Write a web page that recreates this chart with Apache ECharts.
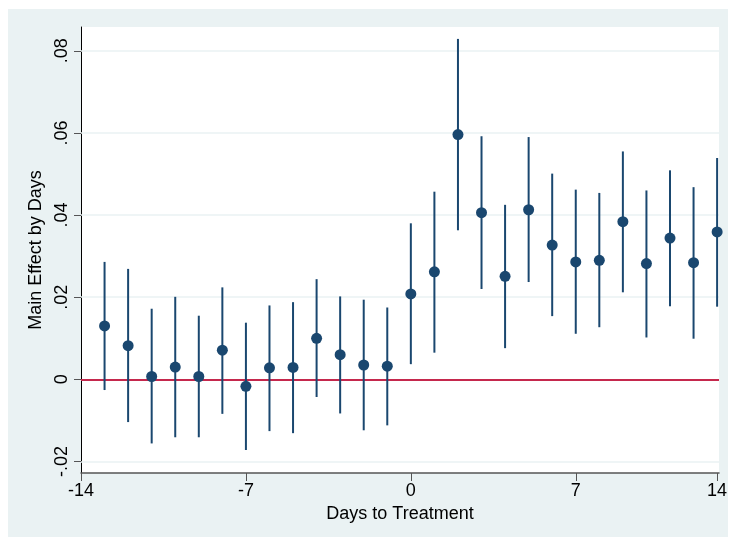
<!DOCTYPE html>
<html>
<head>
<meta charset="utf-8">
<script src="https://cdn.jsdelivr.net/npm/echarts@6/dist/echarts.min.js"></script>
<style>
html,body{margin:0;padding:0;background:#ffffff;}
#bg{position:absolute;left:8px;top:9px;width:720px;height:528px;background:#EAF2F3;}
#chart{position:absolute;left:0;top:0;width:735px;height:544px;}
</style>
</head>
<body>
<div id="bg"></div>
<div id="chart"></div>
<script>
// Data
const days = [-13,-12,-11,-10,-9,-8,-7,-6,-5,-4,-3,-2,-1,0,1,2,3,4,5,6,7,8,9,10,11,12,13];
const estimate = [0.0130,0.0082,0.0007,0.0030,0.0007,0.0071,-0.0017,0.0028,0.0029,0.0100,0.0060,0.0035,0.0032,0.0208,0.0262,0.0596,0.0406,0.0251,0.0413,0.0327,0.0286,0.0290,0.0384,0.0282,0.0344,0.0284,0.0359];
const ciLow = [-0.0026,-0.0104,-0.0156,-0.0141,-0.0141,-0.0084,-0.0172,-0.0126,-0.0131,-0.0043,-0.0083,-0.0124,-0.0112,0.0037,0.0065,0.0363,0.0220,0.0076,0.0237,0.0154,0.0111,0.0127,0.0212,0.0102,0.0178,0.0099,0.0177];
const ciHigh = [0.0286,0.0269,0.0172,0.0201,0.0155,0.0224,0.0138,0.0180,0.0188,0.0244,0.0202,0.0194,0.0175,0.0380,0.0457,0.0829,0.0592,0.0425,0.0590,0.0501,0.0462,0.0454,0.0555,0.0460,0.0509,0.0468,0.0539];
const xTickValues = [-14,-7,0,7,13];
const xTickLabels = ["-14","-7","0","7","14"];
const yTickValues = [-0.02,0,0.02,0.04,0.06,0.08];
const yTickLabels = ["-.02","0",".02",".04",".06",".08"];
const xTitle = "Days to Treatment";
const yTitle = "Main Effect by Days";

const FONT = "'Liberation Sans', Arial, sans-serif";
const NAVY = '#1a476f';

const pointData = days.map((d, i) => [d, estimate[i]]);
const barData = days.map((d, i) => [d, ciLow[i], ciHigh[i]]);

function lookup(values, labels, v) {
  for (let i = 0; i < values.length; i++) {
    if (Math.abs(values[i] - v) < 1e-9) return labels[i];
  }
  return '';
}

const chart = echarts.init(document.getElementById('chart'), null, {renderer: 'canvas'});
chart.setOption({
  backgroundColor: 'transparent',
  animation: false,
  grid: {left: 81, right: 16, top: 27, bottom: 71, show: true, backgroundColor: '#ffffff', borderWidth: 0},
  xAxis: {
    type: 'value', min: -14, max: 13.08,
    name: xTitle, nameLocation: 'middle', nameGap: 30,
    nameTextStyle: {fontSize: 18, color: '#000', fontFamily: FONT},
    axisLine: {show: true, onZero: false, lineStyle: {color: '#555555', width: 1.5}},
    axisTick: {show: true, length: 8, customValues: xTickValues, lineStyle: {color: '#555555', width: 1}},
    axisLabel: {customValues: xTickValues, fontSize: 18, color: '#000', fontFamily: FONT, margin: 9,
      formatter: v => lookup(xTickValues, xTickLabels, v)},
    splitLine: {show: false}
  },
  yAxis: {
    type: 'value', min: -0.0228, max: 0.0858,
    name: yTitle, nameLocation: 'middle', nameGap: 29,
    nameTextStyle: {fontSize: 18, color: '#000', fontFamily: FONT},
    axisLine: {show: true, onZero: false, lineStyle: {color: '#000000', width: 1}},
    axisTick: {show: true, length: 7, customValues: yTickValues, lineStyle: {color: '#555555', width: 1}},
    axisLabel: {customValues: yTickValues, rotate: 90, fontSize: 18, color: '#000', fontFamily: FONT, margin: 10,
      formatter: v => lookup(yTickValues, yTickLabels, v)},
    splitLine: {show: false}
  },
  series: [
    {
      type: 'scatter', data: [], z: 1, silent: true,
      markLine: {
        silent: true, symbol: 'none', animation: false, z: 1,
        label: {show: false},
        lineStyle: {color: '#EAF2F3', width: 1.5, type: 'solid'},
        data: yTickValues.filter(v => v !== 0).map(v => ({yAxis: v}))
      }
    },
    {
      type: 'scatter', data: [], z: 2, silent: true,
      markLine: {
        silent: true, symbol: 'none', animation: false, z: 2,
        label: {show: false},
        lineStyle: {color: '#c5284d', width: 2, type: 'solid'},
        data: [{yAxis: 0}]
      }
    },
    {
      type: 'custom', z: 10, silent: true,
      data: barData,
      encode: {x: 0, y: [1, 2]},
      renderItem: function (params, api) {
        const x = api.value(0);
        const p1 = api.coord([x, api.value(1)]);
        const p2 = api.coord([x, api.value(2)]);
        return {type: 'line', shape: {x1: p1[0], y1: p1[1], x2: p2[0], y2: p2[1]},
          style: {stroke: NAVY, lineWidth: 2}};
      }
    },
    {
      type: 'scatter', z: 11, silent: true,
      data: pointData, symbol: 'circle', symbolSize: 11,
      itemStyle: {color: NAVY, opacity: 1}
    }
  ]
});
</script>
</body>
</html>
